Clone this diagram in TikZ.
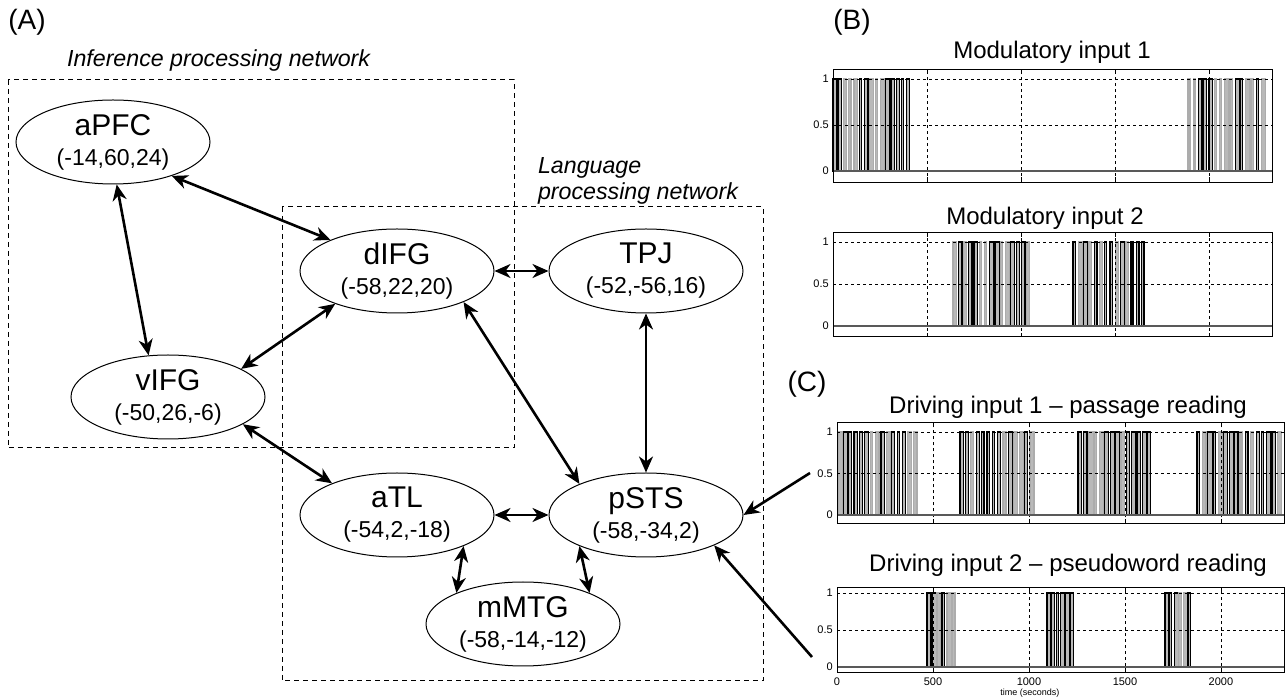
\documentclass[tikz,border=0pt]{standalone}
\usepackage{fontspec}
\setmainfont{Liberation Sans}
\usetikzlibrary{arrows.meta, shapes.geometric}

% name and MNI coordinates of one region
\newcommand{\roi}[2]{{\fontsize{15}{16}\selectfont #1}\\[3pt]{\fontsize{11.5}{13}\selectfont #2}}

% axes of one input plot (x in seconds, y in signal units): bottom, top, xmax
\newcommand{\sigframe}[3]{%
  \foreach \t in {500,1000,1500,2000} {
    \draw[grid] (\t,#1) -- (\t,#2);
    \draw[axis] (\t,#1) -- ++(0,0.05) (\t,#2) -- ++(0,-0.05);
  }
  \foreach \v in {0.5,1} \draw[grid] (0,\v) -- (#3,\v);
  \foreach \v in {0,0.5,1} {
    \draw[axis] (0,\v) -- ++(15,0);
    \node[ticklbl, anchor=east] at (-10,\v) {\v};
  }
  \draw[sigline] (0,0) -- (#3,0);
  \draw[axis] (0,#1) rectangle (#3,#2);
}

% a burst of pulses: first, second, last onset
\newcommand{\burst}[3]{%
  \foreach \t in {#1,#2,...,#3} {
    \pgfmathsetmacro{\w}{10+13*rnd}
    \pgfmathsetmacro{\g}{rnd}
    \ifdim\g pt<0.35pt \def\dc{gray!65}\else\def\dc{black}\fi
    \draw[pulse, draw=\dc, fill=gray!55] (\t,0) rectangle ++(\w,1);
  }}

\begin{document}
\begin{tikzpicture}[x=0.5pt, y=-0.5pt,
    region/.style={ellipse, draw, line width=0.5pt, minimum width=97pt, minimum height=42pt, inner sep=0pt, align=center},
    link/.style={{Stealth[length=8pt,width=7pt,inset=2.5pt]}-{Stealth[length=8pt,width=7pt,inset=2.5pt]}, line width=1.3pt},
    feed/.style={-{Stealth[length=8pt,width=7pt,inset=2.5pt]}, line width=1.3pt},
    netbox/.style={draw, line width=0.5pt, dash pattern=on 2.5pt off 2pt},
    netlbl/.style={font=\fontsize{11.6}{13}\selectfont\itshape, align=left},
    panel/.style={font=\fontsize{14}{14}\selectfont},
    title/.style={font=\fontsize{12}{12}\selectfont},
    ticklbl/.style={font=\fontsize{5.5}{5.5}\selectfont, inner sep=1pt},
    grid/.style={line width=0.45pt, dash pattern=on 1.5pt off 1.5pt},
    axis/.style={line width=0.45pt},
    sigline/.style={line width=0.6pt, gray!70!black},
    pulse/.style={line width=0.6pt}]
  \useasboundingbox (0,0) rectangle (1286,699);
  \pgfmathsetseed{17}

  % (A) network
  \node[panel] (labA) at (27,22) {(A)};
  \node[netlbl, anchor=west] (infl) at (60,61) {Inference processing network};
  \node[netlbl, anchor=north west] (lanl) at (531,150) {Language\\processing network};
  \draw[netbox] (8,80) rectangle (514,448);
  \draw[netbox] (282,207) rectangle (763,681);

  \node[region] (aPFC) at (113,142) {\roi{aPFC}{(-14,60,24)}};
  \node[region] (dIFG) at (397,271) {\roi{dIFG}{(-58,22,20)}};
  \node[region] (TPJ) at (646,271) {\roi{TPJ}{(-52,-56,16)}};
  \node[region] (vIFG) at (168,397) {\roi{vIFG}{(-50,26,-6)}};
  \node[region] (aTL) at (397,515) {\roi{aTL}{(-54,2,-18)}};
  \node[region] (pSTS) at (646,515) {\roi{pSTS}{(-58,-34,2)}};
  \node[region] (mMTG) at (523,624) {\roi{mMTG}{(-58,-14,-12)}};

  \draw[link] (aPFC.-30) -- (dIFG.155);
  \draw[link] (aPFC.-85) -- (vIFG.115);
  \draw[link] (vIFG.21) -- (dIFG.-152);
  \draw[link] (dIFG) -- (TPJ);
  \draw[link] (dIFG.-25) -- (pSTS.155);
  \draw[link] (TPJ) -- (pSTS);
  \draw[link] (vIFG.-20) -- (aTL.154);
  \draw[link] (aTL) -- (pSTS);
  \draw[link] (aTL.-25) -- (mMTG.155);
  \draw[link] (pSTS.-155) -- (mMTG.25);

  \coordinate (drv1) at (810,473);
  \coordinate (drv2) at (812,657);
  \draw[feed] (drv1) -- (pSTS.east);
  \draw[feed] (drv2) -- (pSTS.-24);

  % (B) modulatory inputs
  \node[panel] (labB) at (852,22) {(B)};
  \node[title] (tB1) at (1052,52) {Modulatory input 1};
  \begin{scope}[shift={(833,171)}, x=0.094pt, y=46pt]
    \burst{0}{28}{400}
    \burst{1888}{1916}{2290}
    \sigframe{-0.12}{1.1}{2340}
  \end{scope}
  \node[title] (tB2) at (1045,218) {Modulatory input 2};
  \begin{scope}[shift={(833,326)}, x=0.094pt, y=42pt]
    \burst{638}{666}{1030}
    \burst{1277}{1305}{1660}
    \sigframe{-0.13}{1.11}{2340}
  \end{scope}

  % (C) driving inputs
  \node[panel] (labC) at (807,384) {(C)};
  \node[title] (tC1) at (1068,407) {Driving input 1 – passage reading};
  \begin{scope}[shift={(837,515)}, x=0.096pt, y=41.5pt]
    \burst{5}{33}{415}
    \burst{641}{669}{1025}
    \burst{1255}{1283}{1625}
    \burst{1875}{1903}{2300}
    \sigframe{-0.1}{1.11}{2330}
  \end{scope}
  \node[title] (tC2) at (1068,565) {Driving input 2 – pseudoword reading};
  \begin{scope}[shift={(837,667)}, x=0.096pt, y=37pt]
    \burst{469}{495}{600}
    \burst{1094}{1118}{1215}
    \burst{1708}{1732}{1835}
    \sigframe{-0.07}{1.08}{2330}
    \foreach \t in {0,500,1000,1500,2000} \node[ticklbl] at (\t,-0.2) {\t};
    \node[ticklbl, font=\fontsize{4.5}{4.5}\selectfont] (tlbl) at (1005,-0.36) {time (seconds)};
  \end{scope}
\end{tikzpicture}
\end{document}
